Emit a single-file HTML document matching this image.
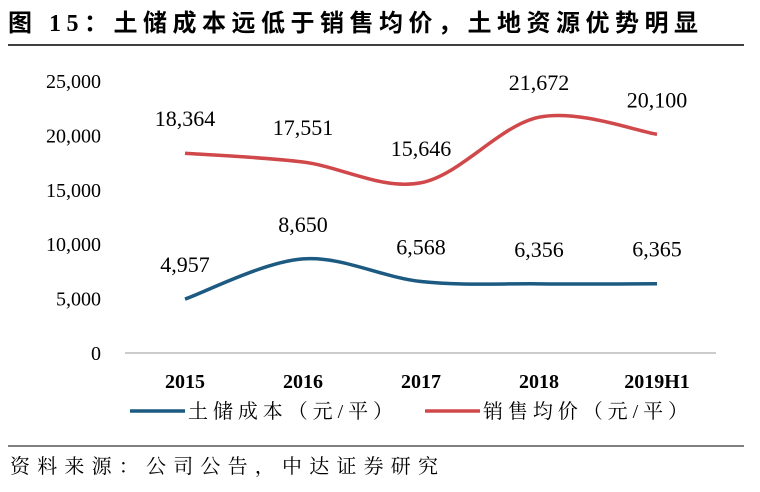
<!DOCTYPE html>
<html><head><meta charset="utf-8"><style>
body{margin:0;background:#fff;width:760px;height:487px;overflow:hidden;font-family:"Liberation Serif","Noto Serif CJK SC",serif;}
</style></head><body>
<svg width="760" height="487" xmlns="http://www.w3.org/2000/svg">
<text x="8" y="31" font-size="24" font-weight="bold" textLength="690" lengthAdjust="spacing" font-family="Liberation Serif, Noto Sans CJK SC, sans-serif" fill="#000">图 15：土储成本远低于销售均价，土地资源优势明显</text>
<line x1="8" y1="45" x2="744" y2="45" stroke="#000" stroke-width="1.5"/>
<g id="plot"></g>
<line x1="8" y1="446" x2="744" y2="446" stroke="#000" stroke-width="1"/>
<text x="10" y="473" font-size="20" textLength="428" lengthAdjust="spacing" font-family="Liberation Serif, Noto Serif CJK SC, serif" fill="#000">资料来源：公司公告，中达证券研究</text>
</svg>
<script>
const categories=["2015","2016","2017","2018","2019H1"];
const landCost=[4957,8650,6568,6356,6365];
const salePrice=[18364,17551,15646,21672,20100];
const yTicks=[0,5000,10000,15000,20000,25000];
const seriesNames=["土储成本（元/平）","销售均价（元/平）"];
const NS="http://www.w3.org/2000/svg";
const g=document.getElementById("plot");
const x0=185,dx=118, y0=353, ymax=25000, yTop=81;
const xs=i=>x0+i*dx;
const ys=v=>y0-(v/ymax)*(y0-yTop);
function mk(t,a){const e=document.createElementNS(NS,t);for(const k in a)e.setAttribute(k,a[k]);g.appendChild(e);return e;}
yTicks.forEach(v=>{const t=mk("text",{x:101,y:ys(v)+7,"text-anchor":"end","font-size":"20",fill:"#000"});


t.textContent=v.toLocaleString("en-US");});
const ax=mk("line",{x1:125,y1:y0,x2:716,y2:y0,stroke:"#999","stroke-width":1});


categories.forEach((c,i)=>{const t=mk("text",{x:xs(i),y:388,"text-anchor":"middle","font-size":"20","font-weight":"bold",fill:"#000"});


t.textContent=c;});
function path(vals){const p=vals.map((v,i)=>[xs(i),ys(v)]);let d="M"+p[0][0]+","+p[0][1];
for(let i=0;i<p.length-1;i++){const a=p[Math.max(0,i-1)],b=p[i],c=p[i+1],e=p[Math.min(p.length-1,i+2)];
const c1=[b[0]+(c[0]-a[0])/6,b[1]+(c[1]-a[1])/6],c2=[c[0]-(e[0]-b[0])/6,c[1]-(e[1]-b[1])/6];
d+=` C${c1[0]},${c1[1]} ${c2[0]},${c2[1]} ${c[0]},${c[1]}`;}return d;}
function series(vals,color,name){const l=mk("path",{d:path(vals),fill:"none",stroke:color,"stroke-width":3.5});


vals.forEach((v,i)=>{const t=mk("text",{x:xs(i),y:ys(v)-27,"text-anchor":"middle","font-size":"22",fill:"#000"});


t.textContent=v.toLocaleString("en-US");});}
series(salePrice,"#d0484a","sale-price");
series(landCost,"#1c5a82","land-cost");
[["#1c5a82",130,seriesNames[0],"legend-land-cost"],["#d0484a",425,seriesNames[1],"legend-sale-price"]].forEach(([c,x,n,nm])=>{
const l=mk("line",{x1:x,y1:411,x2:x+55,y2:411,stroke:c,"stroke-width":3.5});


const t=mk("text",{x:x+58,y:418,"font-size":"20",textLength:"205",lengthAdjust:"spacing","font-family":"Liberation Serif, Noto Serif CJK SC, serif",fill:"#000"});


t.textContent=n;});
</script>
</body></html>
